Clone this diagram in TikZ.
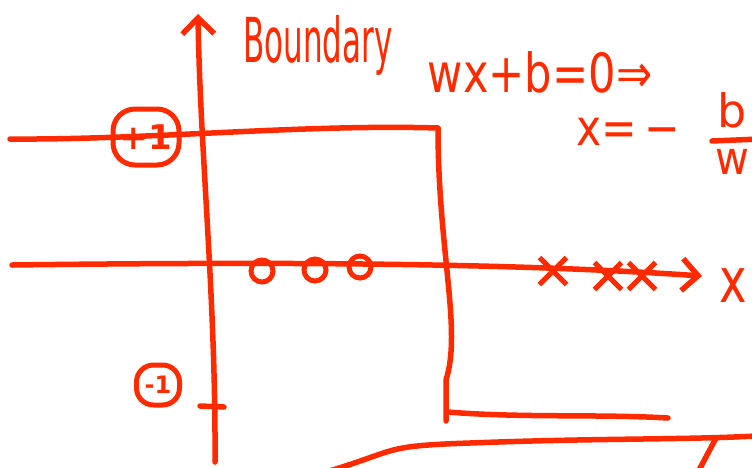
\documentclass[tikz,border=0pt]{standalone}
\usepackage{fontspec}
\newfontfamily\handfont{DejaVu Sans}
\definecolor{ink}{HTML}{FF2A00}
\usepackage{tikz}
\usetikzlibrary{arrows.meta, shapes.misc, shapes.geometric, positioning}

\begin{document}
\begin{tikzpicture}[x=1pt, y=-1pt,
        stroke/.style={draw=ink, line width=5.5pt, line cap=round, line join=round},
        barb/.style={-{Straight Barb[length=16pt, width=32pt, line width=5.5pt]}},
        lbl/.style={text=ink, inner sep=0pt, font=\handfont},
        ring/.style={draw=ink, line width=5pt, rectangle, rounded corners=22pt, inner sep=0pt, text=ink, font=\handfont},
        posmark/.style={draw=ink, line width=5pt, circle, minimum size=22pt, inner sep=0pt},
        negmark/.style={draw=ink, line width=5pt, cross out, minimum size=22pt, inner sep=0pt}
    ]
    \useasboundingbox (0,0) rectangle (752,467);

    % axes
    \coordinate (ybot) at (215,462);
    \coordinate (ytop) at (198,14);
    \coordinate (xleft) at (12,265);
    \coordinate (xright) at (702,276);
    \draw[stroke, barb] (ybot) .. controls (216,300) and (200,150) .. (ytop);
    \draw[stroke, barb] (xleft) .. controls (250,262) and (500,262) .. (xright);
    \node[lbl, font=\handfont\fontsize{62}{62}\selectfont, xscale=0.75] (xlab) at (733,286) {x};

    % step function
    \coordinate (topleft) at (10,139);
    \coordinate (topright) at (438,128);
    \coordinate (stepfoot) at (446,421);
    \coordinate (lowstart) at (448,412);
    \coordinate (lowend) at (668,418);
    \draw[stroke] (topleft) .. controls (150,140) and (300,124) .. (topright);
    \draw[stroke] (topright) .. controls (438,250) and (462,330) .. (446,380) -- (stepfoot);
    \draw[stroke] (lowstart) .. controls (520,418) and (600,414) .. (lowend);

    % levels
    \node[ring, minimum width=66pt, minimum height=56pt, font=\handfont\bfseries\fontsize{34}{34}\selectfont] (plus) at (146,137) {+1};
    \node[ring, rounded corners=17pt, minimum width=43pt, minimum height=40pt, font=\handfont\bfseries\fontsize{24}{24}\selectfont] (minus) at (158,385) {-1};
    \coordinate (tickl) at (200,406);
    \coordinate (tickr) at (224,407);
    \draw[stroke] (tickl) -- (tickr);

    % samples
    \node[posmark] (o1) at (262,271) {};
    \node[posmark] (o2) at (315,270) {};
    \node[posmark] (o3) at (360,267) {};
    \node[negmark] (x1) at (553,271) {};
    \node[negmark] (x2) at (608,276) {};
    \node[negmark] (x3) at (642,276) {};

    % labels
    \node[lbl, font=\handfont\fontsize{62}{62}\selectfont, xscale=0.5] (bound) at (318,45) {Boundary};
    \node[lbl, font=\handfont\fontsize{54}{54}\selectfont, xscale=0.8] (eqn) at (540,72) {wx+b=0⇒};
    \node[lbl, font=\handfont\fontsize{50}{50}\selectfont, xscale=0.85] (sol) at (628,132) {x=\,−};
    \node[lbl, font=\handfont\fontsize{46}{46}\selectfont] (fracb) at (732,110) {b};
    \node[lbl, font=\handfont\fontsize{46}{46}\selectfont, xscale=0.9] (fracw) at (732,162) {w};
    \coordinate (barl) at (712,141);
    \coordinate (barr) at (760,139);
    \draw[stroke] (barl) -- (barr);

    % lower sketch
    \coordinate (curvel) at (326,472);
    \coordinate (curver) at (756,436);
    \coordinate (forkt) at (716,438);
    \coordinate (forkb) at (698,472);
    \draw[stroke] (curvel) .. controls (400,450) and (380,446) .. (470,443) .. controls (600,438) and (680,440) .. (curver);
    \draw[stroke] (forkt) -- (forkb);
\end{tikzpicture}
\end{document}
